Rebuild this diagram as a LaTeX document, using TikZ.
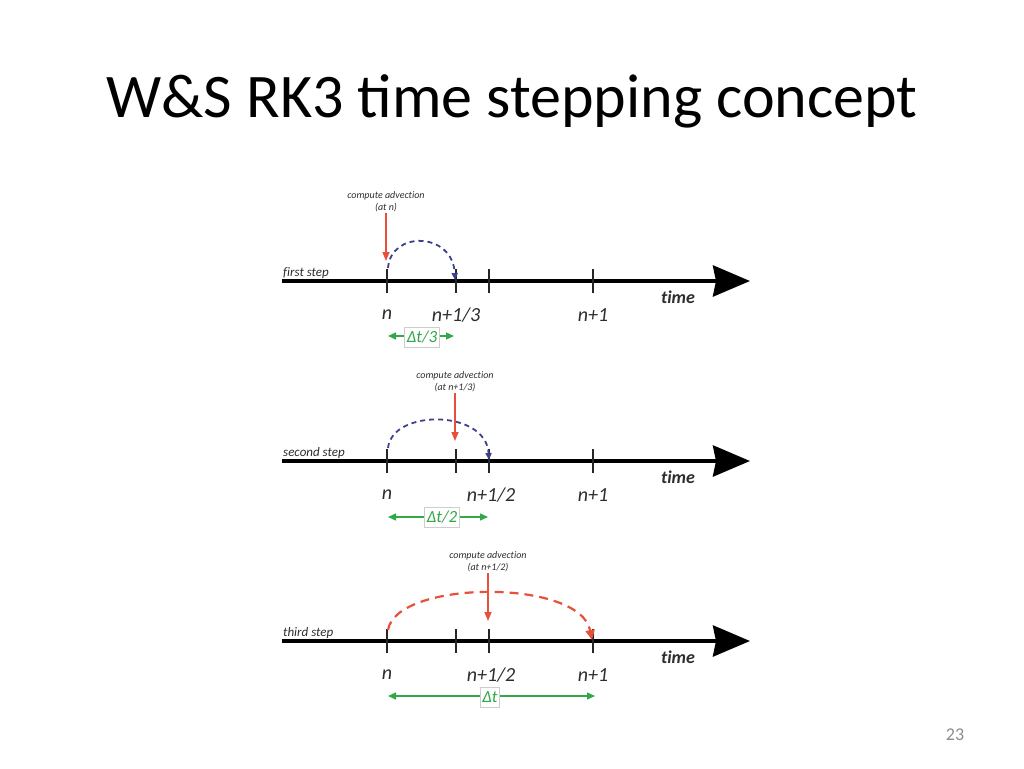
\documentclass[tikz,border=0pt]{standalone}
\usepackage{fontspec}
\setmainfont{Carlito}
\newfontfamily\diagfont[Ligatures=NoCommon]{Carlito}
\usetikzlibrary{arrows.meta}
\definecolor{advred}{RGB}{232,80,58}
\definecolor{arcblue}{RGB}{62,64,140}
\definecolor{dtgreen}{RGB}{50,168,72}
\definecolor{txtgray}{RGB}{45,45,45}
\definecolor{pagegray}{RGB}{140,140,140}
\definecolor{boxgray}{RGB}{205,205,205}
\begin{document}
\begin{tikzpicture}[x=1pt,y=-1pt,
  axisline/.style={line width=4pt,black,-{Stealth[length=37pt,width=31pt,inset=3pt]}},
  tickline/.style={line width=1.4pt,black!85},
  advarrow/.style={line width=1.4pt,advred,-{Triangle[length=9pt,width=7pt]}},
  bluearc/.style={line width=1.8pt,arcblue,dash pattern=on 5pt off 4pt,-{Triangle[length=7pt,width=6pt]}},
  redarc/.style={line width=2.2pt,advred,dash pattern=on 9pt off 6pt,-{Triangle[length=10pt,width=9pt]}},
  dtarrow/.style={line width=1.3pt,dtgreen,{Triangle[length=8pt,width=7pt]}-{Triangle[length=8pt,width=7pt]}},
  dtbox/.style={draw=boxgray,line width=0.8pt,fill=white,text=dtgreen,inner sep=2pt,minimum height=20pt,font=\diagfont\itshape\fontsize{17}{18}\selectfont},
  steplabel/.style={anchor=west,text=txtgray,inner sep=0pt,font=\diagfont\itshape\fontsize{13}{14}\selectfont},
  ticklabel/.style={text=txtgray,inner sep=0pt,font=\diagfont\itshape\fontsize{20}{21}\selectfont},
  timelabel/.style={text=txtgray,inner sep=0pt,font=\diagfont\bfseries\itshape\fontsize{18}{19}\selectfont},
  advlabel/.style={text=txtgray,align=center,inner sep=1pt,font=\diagfont\itshape\fontsize{10}{12}\selectfont}
]
\useasboundingbox (0,0) rectangle (1024,768);
\node[font=\fontsize{62}{68}\selectfont] (title) at (512,101) {W\&S RK3 time stepping concept};
\node[text=pagegray,font=\fontsize{18}{20}\selectfont] (page) at (955,735) {23};

% ---------- first step ----------
\begin{scope}
\coordinate (a1s) at (282,281); \coordinate (a1e) at (750,281);
\draw[axisline] (a1s) -- (a1e);
\coordinate (t1n) at (387,281); \coordinate (t1a) at (456,281);
\coordinate (t1b) at (489,281); \coordinate (t1c) at (593,281);
\foreach \c in {t1n,t1a,t1b,t1c} \draw[tickline] (\c) ++(0,-12) -- ++(0,24);
\node[steplabel] (s1) at (283,273) {first step};
\node[timelabel] (tm1) at (678,297) {time};
\node[ticklabel] (l1n) at (387,315) {n};
\node[ticklabel] (l1a) at (456,315) {n+1/3};
\node[ticklabel] (l1c) at (593,315) {n+1};
\node[advlabel] (c1) at (386,202) {compute advection\\(at n)};
\coordinate (r1e) at (386,261);
\draw[advarrow] (c1.south) -- (r1e);
\coordinate (b1s) at (388,268); \coordinate (b1e) at (455,280);
\draw[bluearc] (b1s) .. controls (391,230) and (453,232) .. (b1e);
\coordinate (g1l) at (388,336); \coordinate (g1r) at (454,336);
\draw[dtarrow] (g1l) -- (g1r);
\node[dtbox] (d1) at (422,337) {Δt/3};
\end{scope}

% ---------- second step ----------
\begin{scope}[shift={(0,180)}]
\coordinate (a2s) at (282,281); \coordinate (a2e) at (750,281);
\draw[axisline] (a2s) -- (a2e);
\coordinate (t2n) at (387,281); \coordinate (t2a) at (456,281);
\coordinate (t2b) at (489,281); \coordinate (t2c) at (593,281);
\foreach \c in {t2n,t2a,t2b,t2c} \draw[tickline] (\c) ++(0,-12) -- ++(0,24);
\node[steplabel] (s2) at (283,273) {second step};
\node[timelabel] (tm2) at (678,297) {time};
\node[ticklabel] (l2n) at (387,315) {n};
\node[ticklabel] (l2b) at (491,315) {n+1/2};
\node[ticklabel] (l2c) at (593,315) {n+1};
\node[advlabel] (c2) at (455,202) {compute advection\\(at n+1/3)};
\coordinate (r2e) at (455,261);
\coordinate (b2s) at (388,268); \coordinate (b2e) at (489,280);
\draw[bluearc] (b2s) .. controls (392,229) and (486,229) .. (b2e);
\draw[advarrow] (c2.south) -- (r2e);
\coordinate (g2l) at (388,337); \coordinate (g2r) at (488,337);
\draw[dtarrow] (g2l) -- (g2r);
\node[dtbox] (d2) at (442,337) {Δt/2};
\end{scope}

% ---------- third step ----------
\begin{scope}[shift={(0,360)}]
\coordinate (a3s) at (282,281); \coordinate (a3e) at (750,281);
\draw[axisline] (a3s) -- (a3e);
\coordinate (t3n) at (387,281); \coordinate (t3a) at (456,281);
\coordinate (t3b) at (489,281); \coordinate (t3c) at (593,281);
\foreach \c in {t3n,t3a,t3b,t3c} \draw[tickline] (\c) ++(0,-12) -- ++(0,24);
\node[steplabel] (s3) at (283,273) {third step};
\node[timelabel] (tm3) at (678,297) {time};
\node[ticklabel] (l3n) at (387,315) {n};
\node[ticklabel] (l3b) at (491,315) {n+1/2};
\node[ticklabel] (l3c) at (593,315) {n+1};
\node[advlabel] (c3) at (488,202) {compute advection\\(at n+1/2)};
\coordinate (r3e) at (488,261);
\coordinate (b3s) at (388,270); \coordinate (b3e) at (592,280);
\draw[redarc] (b3s) .. controls (396,220) and (580,218) .. (b3e);
\draw[advarrow] (c3.south) -- (r3e);
\coordinate (g3l) at (388,336); \coordinate (g3r) at (595,336);
\draw[dtarrow] (g3l) -- (g3r);
\node[dtbox] (d3) at (490,337) {Δt};
\end{scope}
\end{tikzpicture}
\end{document}
